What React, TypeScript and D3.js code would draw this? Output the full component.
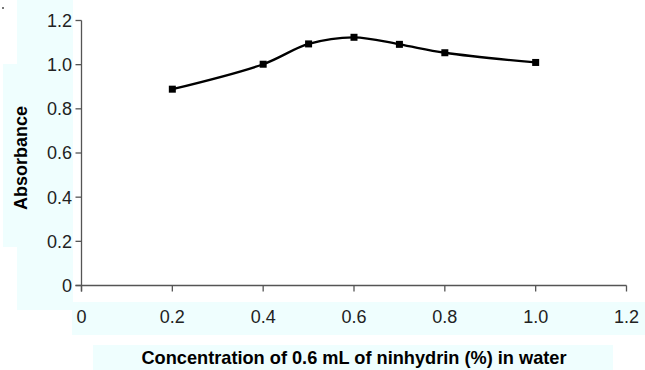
import React from "react";
import * as d3 from "d3";

const xValues = [0.2, 0.4, 0.5, 0.6, 0.7, 0.8, 1.0];
const yValues = [0.889, 1.002, 1.094, 1.124, 1.092, 1.054, 1.01];
const xTicks = [0, 0.2, 0.4, 0.6, 0.8, 1.0, 1.2];
const yTicks = [0, 0.2, 0.4, 0.6, 0.8, 1.0, 1.2];
const xTitle = "Concentration of 0.6 mL of ninhydrin (%) in water";
const yTitle = "Absorbance";

const W = 645;
const H = 370;
const FONT = "'Liberation Sans', Arial, Helvetica, sans-serif";
const BG = "#effefe";

function fmt(v: number) {
  if (v === 0) return "0";
  return v.toFixed(1);
}

export default function App() {
  const x = d3.scaleLinear().domain([0, 1.2]).range([81.5, 626.5]);
  const y = d3.scaleLinear().domain([0, 1.2]).range([285.5, 20.5]);
  const pts: [number, number][] = xValues.map((v, i) => [x(v), y(yValues[i])]);
  const line = d3.line().curve(d3.curveCatmullRom.alpha(0.5))(pts) || "";
  const axisColor = "#555";
  return (
    <svg
      width={W}
      height={H}
      style={{ position: "absolute", left: 0, top: 0, display: "block" }}
    >
      <rect x={0} y={0} width={W} height={H} fill="#fff" />
      <rect x={3} y={64} width={60} height={183} fill={BG} />
      <rect x={17} y={0} width={56} height={310} fill={BG} />
      <rect x={72} y={302} width={573} height={33} fill={BG} />
      <rect x={93} y={345} width={520} height={25} fill={BG} />
      <rect x={2} y={7} width={2} height={2} fill="#777" />

      {/* axes */}
      <line x1={x(0)} x2={x(0)} y1={y(1.2)} y2={y(0) + 6} stroke={axisColor} strokeWidth={1.3} />
      <line x1={x(0) - 6} x2={x(1.2)} y1={y(0)} y2={y(0)} stroke={axisColor} strokeWidth={1.3} />
      {yTicks.map((t) => (
        <g key={"y" + t}>
          <line x1={x(0) - 6} x2={x(0)} y1={y(t)} y2={y(t)} stroke={axisColor} strokeWidth={1.3} />
          <text
            x={72}
            y={y(t)}
            dy="0.36em"
            textAnchor="end"
            fontFamily={FONT}
            fontSize={18}
            fill="#222"
          >
            {fmt(t)}
          </text>
        </g>
      ))}
      {xTicks.map((t) => (
        <g key={"x" + t}>
          <line x1={x(t)} x2={x(t)} y1={y(0)} y2={y(0) + 6} stroke={axisColor} strokeWidth={1.3} />
          <text
            x={x(t)}
            y={322.5}
            textAnchor="middle"
            fontFamily={FONT}
            fontSize={18}
            fill="#222"
          >
            {fmt(t)}
          </text>
        </g>
      ))}

      <path d={line} fill="none" stroke="#000" strokeWidth={2.3} />
      {pts.map((p, i) => (
        <rect key={i} x={p[0] - 3.5} y={p[1] - 3.5} width={7} height={7} fill="#000" />
      ))}

      <text
        x={354}
        y={364}
        textAnchor="middle"
        fontFamily={FONT}
        fontSize={18.2}
        fontWeight="bold"
        fill="#000"
      >
        {xTitle}
      </text>
      <text
        transform={`translate(26.5,158) rotate(-90)`}
        textAnchor="middle"
        fontFamily={FONT}
        fontSize={18}
        fontWeight="bold"
        fill="#000"
      >
        {yTitle}
      </text>
    </svg>
  );
}
